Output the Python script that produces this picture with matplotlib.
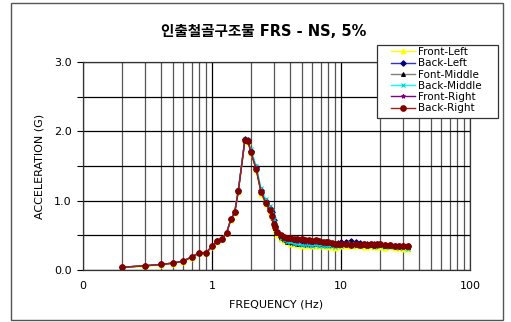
import numpy as np
import matplotlib
matplotlib.use("Agg")
import matplotlib.pyplot as plt
from matplotlib.patches import Rectangle
from matplotlib.ticker import FixedLocator, FixedFormatter, NullFormatter

plt.rcParams['font.family'] = ['DejaVu Sans']

# frequency points (Hz)
freq = [0.2, 0.3, 0.4, 0.5, 0.6, 0.7, 0.8, 0.9, 1.0, 1.1,
        1.2, 1.3, 1.4, 1.5, 1.6, 1.8, 1.9, 2.0, 2.2, 2.4,
        2.6, 2.8, 2.9, 3.0, 3.1, 3.2, 3.4, 3.6, 3.8, 4.0,
        4.3, 4.6, 5.0, 5.3, 5.6, 6.0, 6.4, 6.8, 7.2, 7.6,
        8.0, 8.5, 9.0, 9.5, 10, 11, 12, 13, 14, 15,
        16, 17, 18, 19, 20, 22, 24, 26, 28, 30, 33]

front_left = [0.03, 0.05, 0.07, 0.09, 0.12, 0.18, 0.24, 0.24, 0.33, 0.41,
              0.44, 0.53, 0.72, 0.82, 1.13, 1.87, 1.85, 1.69, 1.44, 1.10,
              0.95, 0.84, 0.76, 0.64, 0.58, 0.50, 0.45, 0.42, 0.40, 0.38,
              0.37, 0.36, 0.35, 0.35, 0.35, 0.34, 0.35, 0.34, 0.34, 0.34,
              0.33, 0.33, 0.32, 0.33, 0.34, 0.35, 0.35, 0.34, 0.34, 0.33,
              0.33, 0.34, 0.33, 0.33, 0.33, 0.32, 0.33, 0.32, 0.32, 0.31, 0.31]

back_left = [0.04, 0.06, 0.08, 0.10, 0.13, 0.19, 0.25, 0.25, 0.34, 0.42,
             0.45, 0.54, 0.73, 0.84, 1.15, 1.89, 1.87, 1.72, 1.48, 1.15,
             1.00, 0.90, 0.83, 0.72, 0.64, 0.55, 0.48, 0.45, 0.42, 0.41,
             0.40, 0.39, 0.39, 0.38, 0.38, 0.38, 0.39, 0.38, 0.38, 0.37,
             0.37, 0.37, 0.38, 0.39, 0.40, 0.41, 0.42, 0.40, 0.39, 0.38,
             0.37, 0.37, 0.37, 0.36, 0.37, 0.36, 0.36, 0.35, 0.35, 0.35, 0.34]

font_middle = [0.04, 0.06, 0.08, 0.10, 0.13, 0.19, 0.25, 0.25, 0.34, 0.42,
               0.45, 0.54, 0.73, 0.83, 1.14, 1.88, 1.86, 1.71, 1.47, 1.14,
               0.99, 0.88, 0.80, 0.69, 0.61, 0.53, 0.47, 0.44, 0.41, 0.40,
               0.39, 0.38, 0.38, 0.37, 0.37, 0.37, 0.38, 0.37, 0.37, 0.36,
               0.36, 0.36, 0.37, 0.38, 0.39, 0.40, 0.40, 0.39, 0.38, 0.37,
               0.36, 0.36, 0.36, 0.36, 0.36, 0.35, 0.35, 0.35, 0.34, 0.34, 0.33]

back_middle = [0.04, 0.06, 0.08, 0.10, 0.13, 0.19, 0.25, 0.25, 0.34, 0.42,
               0.45, 0.54, 0.73, 0.84, 1.15, 1.89, 1.88, 1.74, 1.50, 1.18,
               1.02, 0.92, 0.85, 0.74, 0.62, 0.53, 0.46, 0.43, 0.41, 0.40,
               0.38, 0.37, 0.36, 0.36, 0.36, 0.35, 0.36, 0.35, 0.35, 0.35,
               0.34, 0.34, 0.33, 0.34, 0.35, 0.36, 0.36, 0.35, 0.35, 0.34,
               0.34, 0.34, 0.33, 0.34, 0.34, 0.33, 0.33, 0.33, 0.32, 0.32, 0.31]

front_right = [0.04, 0.06, 0.08, 0.10, 0.13, 0.19, 0.25, 0.25, 0.34, 0.42,
               0.45, 0.54, 0.73, 0.83, 1.14, 1.88, 1.86, 1.70, 1.46, 1.13,
               0.98, 0.87, 0.79, 0.67, 0.61, 0.54, 0.49, 0.46, 0.45, 0.44,
               0.43, 0.42, 0.42, 0.41, 0.41, 0.40, 0.41, 0.40, 0.40, 0.39,
               0.39, 0.38, 0.37, 0.36, 0.36, 0.36, 0.36, 0.36, 0.36, 0.36,
               0.35, 0.36, 0.35, 0.36, 0.36, 0.35, 0.35, 0.34, 0.34, 0.34, 0.34]

back_right = [0.04, 0.06, 0.08, 0.10, 0.13, 0.19, 0.25, 0.25, 0.34, 0.42,
              0.45, 0.54, 0.73, 0.83, 1.14, 1.88, 1.86, 1.70, 1.45, 1.12,
              0.97, 0.86, 0.78, 0.66, 0.62, 0.55, 0.50, 0.47, 0.46, 0.46,
              0.45, 0.44, 0.44, 0.43, 0.43, 0.42, 0.43, 0.42, 0.41, 0.41,
              0.40, 0.39, 0.38, 0.37, 0.37, 0.37, 0.36, 0.37, 0.36, 0.37,
              0.36, 0.37, 0.36, 0.37, 0.37, 0.36, 0.36, 0.35, 0.35, 0.34, 0.35]

series = [
    ('Front-Left', front_left, '#FFFF00', '#FFFF00', '^', 3.5),
    ('Back-Left', back_left, '#3333CC', '#000080', 'D', 2.8),
    ('Font-Middle', font_middle, '#808080', '#000000', '^', 2.8),
    ('Back-Middle', back_middle, '#00FFFF', '#00CCCC', 'x', 3),
    ('Front-Right', front_right, '#800080', '#800080', '*', 3),
    ('Back-Right', back_right, '#A02020', '#800000', 'o', 4),
]

fig = plt.figure(figsize=(5.11, 3.22), dpi=100)
fig.patch.set_facecolor('white')

# outer chart border
fig.patches.append(Rectangle((11 / 511, 2 / 322), 492 / 511, 317 / 322,
                             transform=fig.transFigure, fill=False,
                             edgecolor='#555555', linewidth=1.0))

ax = fig.add_axes([83 / 511, 52 / 322, 387 / 511, 208 / 322])

for name, vals, lc, mc, mk, ms in series:
    ax.plot(freq, vals, color=lc, linewidth=1.0, marker=mk, markersize=ms,
            markerfacecolor=mc, markeredgecolor=mc, markeredgewidth=0.8,
            label=name)

ax.set_xscale('log')
ax.set_xlim(0.1, 100)
ax.set_ylim(0, 3.0)

major_x = [0.1, 1, 10, 100]
minor_x = [m * d for d in (0.1, 1, 10) for m in range(2, 10)]
ax.xaxis.set_major_locator(FixedLocator(major_x))
ax.xaxis.set_major_formatter(FixedFormatter(['0', '1', '10', '100']))
ax.xaxis.set_minor_locator(FixedLocator(minor_x))
ax.xaxis.set_minor_formatter(NullFormatter())

ax.set_yticks([0.0, 0.5, 1.0, 1.5, 2.0, 2.5, 3.0])
ax.set_yticklabels(['0.0', '', '1.0', '', '2.0', '', '3.0'])

ax.grid(True, which='major', axis='both', color='#000000', linewidth=0.9)
ax.grid(True, which='minor', axis='x', color='#555555', linewidth=0.9)
ax.set_axisbelow(True)

ax.tick_params(axis='x', which='both', length=0, pad=8, labelsize=8)
ax.tick_params(axis='y', which='major', length=4, direction='out', pad=4, labelsize=8)
for s in ax.spines.values():
    s.set_color('#333333')
    s.set_linewidth(0.9)

ax.set_xlabel('FREQUENCY (Hz)', fontsize=8, labelpad=6)
ax.set_ylabel('ACCELERATION (G)', fontsize=8, labelpad=7)

fig.text(264 / 511, 1 - 31 / 322, '인출철골구조물 FRS - NS, 5%',
         family=['DejaVu Sans', 'Noto Sans CJK KR'], fontsize=10.5,
         fontweight='bold', ha='center', va='center')

# legend box drawn separately so its padding matches the reference
fig.patches.append(Rectangle((377 / 511, 1 - 118 / 322), 121 / 511, 73 / 322,
                             transform=fig.transFigure, facecolor='white',
                             edgecolor='#333333', linewidth=0.9, zorder=5))
leg = fig.legend(loc='upper left', bbox_to_anchor=(391 / 511, 1 - 47 / 322),
                 fontsize=7.5, frameon=False, borderpad=0, labelspacing=0.12,
                 handlelength=2.3, handletextpad=0.25, borderaxespad=0)
leg.set_zorder(6)

fig.savefig('out.png', dpi=100, facecolor='white')
